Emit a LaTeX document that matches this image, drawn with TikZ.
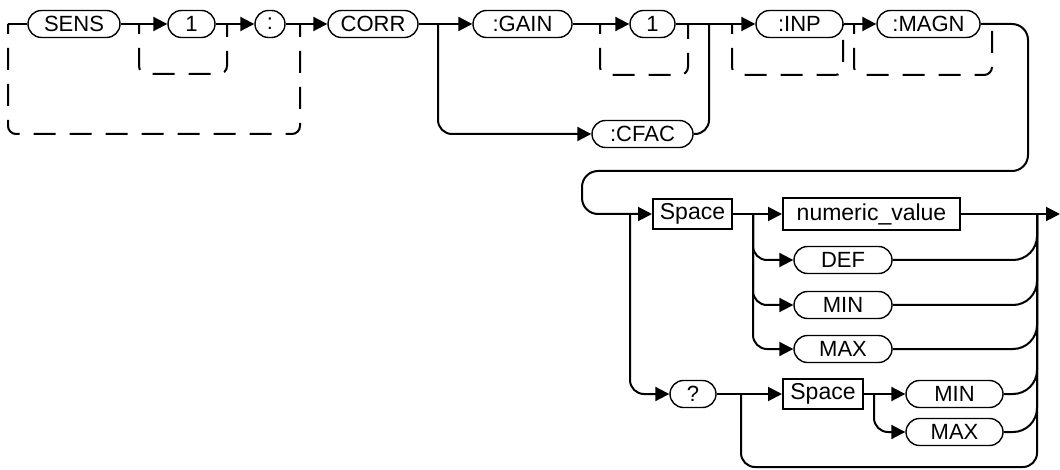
\documentclass[tikz,border=0pt]{standalone}
\usepackage{fontspec}
\setmainfont{Liberation Sans}
\usetikzlibrary{arrows.meta}

\tikzset{
  kw/.style={draw, line width=0.7pt, rounded corners=6.75pt, minimum height=13.5pt,
             inner sep=0pt, font=\fontsize{11}{12}\selectfont},
  prm/.style={draw, line width=1pt, minimum height=15pt,
              inner sep=0pt, font=\fontsize{11.5}{13}\selectfont},
  flow/.style={line width=1pt, rounded corners=7pt},
  go/.style={flow, -{Triangle[length=7pt,width=7pt]}},
  skip/.style={line width=1pt, rounded corners=4pt, dash pattern=on 11pt off 7pt, dash phase=6pt},
  merge/.style={flow, rounded corners=12pt},
}

\begin{document}
\begin{tikzpicture}[x=0.5pt, y=-0.5pt]
  \useasboundingbox (0,0) rectangle (1060,470);

  %% ---- first line: SENS ... :MAGN ----
  \node[kw, minimum width=46pt]   (sens)    at (74,24)    {SENS};
  \node[kw, minimum width=23.5pt] (one)     at (191.5,24) {1};
  \node[kw, minimum width=15pt]   (colon)   at (270,24)   {:};
  \node[kw, minimum width=45pt]   (corr)    at (373,24)   {CORR};
  \node[kw, minimum width=49.5pt] (gain)    at (522.5,24) {:GAIN};
  \node[kw, minimum width=22.5pt] (onegain) at (652.5,24) {1};
  \node[kw, minimum width=50.5pt] (cfac)    at (642.5,134) {:CFAC};
  \node[kw, minimum width=43.5pt] (inp)     at (799.5,24) {:INP};
  \node[kw, minimum width=51.5pt] (magn)    at (928.5,24) {:MAGN};

  %% branch points on the first line
  \coordinate (start) at (8,24);
  \coordinate (optr)  at (300,24);
  \coordinate (onel)  at (139,24);
  \coordinate (oner)  at (227,24);
  \coordinate (cfl)   at (438,24);
  \coordinate (gnl)   at (600,24);
  \coordinate (gnr)   at (688,24);
  \coordinate (cfr)   at (709,24);
  \coordinate (inl)   at (732,24);
  \coordinate (inr)   at (843,24);
  \coordinate (mgl)   at (854,24);
  \coordinate (mgr)   at (992,24);

  \draw[flow] (start) -- (sens.west);
  \draw[go] (sens.east) -- (one.west);
  \draw[go] (one.east) -- (colon.west);
  \draw[go] (colon.east) -- (corr.west);
  \draw[go] (corr.east) -- (gain.west);
  \draw[go] (gain.east) -- (onegain.west);
  \draw[go] (onegain.east) -- (inp.west);
  \draw[go] (inp.east) -- (magn.west);
  \draw[go] (cfl) |- (cfac.west);
  \draw[flow] (cfac.east) -| (cfr);

  %% optional parts (dashed bypasses)
  \draw[skip] (start) -- ++(0,110) -| (optr);
  \draw[skip] (onel) -- ++(0,50) -| (oner);
  \draw[skip] (gnl) -- ++(0,51) -| (gnr);
  \draw[skip] (inl) -- ++(0,51) -| (inr);
  \draw[skip] (mgl) -- ++(0,51) -| (mgr);

  %% ---- second line: Space <value> | ? ----
  \node[prm, minimum width=39.5pt] (space)  at (692.5,214) {Space};
  \node[prm, minimum width=88.5pt, minimum height=16pt] (numval) at (871.5,214) {numeric\_value};
  \node[kw, minimum width=49pt]   (def)   at (843,260)   {DEF};
  \node[kw, minimum width=49pt]   (min)   at (843,305)   {MIN};
  \node[kw, minimum width=49pt]   (max)   at (843,349)   {MAX};
  \node[kw, minimum width=23pt]   (query) at (693,394)   {?};
  \node[prm, minimum width=40pt] (spaceb) at (823,394)   {Space};
  \node[kw, minimum width=48.5pt] (minb)  at (954.5,394) {MIN};
  \node[kw, minimum width=48.5pt] (maxb)  at (954.5,432) {MAX};

  \coordinate (spl)  at (630,214);
  \coordinate (nvl)  at (753,214);
  \coordinate (mrg)  at (1037,214);
  \coordinate (qbr)  at (741,394);
  \coordinate (sbr)  at (874,394);
  \coordinate (botl) at (741,467);
  \coordinate (botr) at (1037,467);
  \coordinate (end)  at (1060,214);

  %% wrap from the end of the first line
  \draw[go, rounded corners=8pt] (magn.east) -| (1028,171) -| (582,214) -- (space.west);

  \draw[go] (space.east) -- (numval.west);
  \draw[go] (numval.east) -- (end);
  \draw[go] (nvl) |- (def.west);
  \draw[go] (nvl) |- (min.west);
  \draw[go] (nvl) |- (max.west);
  \draw[go] (spl) |- (query.west);
  \draw[go] (query.east) -- (spaceb.west);
  \draw[go] (spaceb.east) -- (minb.west);
  \draw[go] (sbr) |- (maxb.west);

  %% joining back on the right
  \draw[flow] (qbr) -- (botl) -- (botr) -- (mrg);
  \draw[merge] (def.east) -| (mrg);
  \draw[merge] (min.east) -| (mrg);
  \draw[merge] (max.east) -| (mrg);
  \draw[merge] (minb.east) -| (mrg);
  \draw[merge] (maxb.east) -| (mrg);
\end{tikzpicture}
\end{document}
